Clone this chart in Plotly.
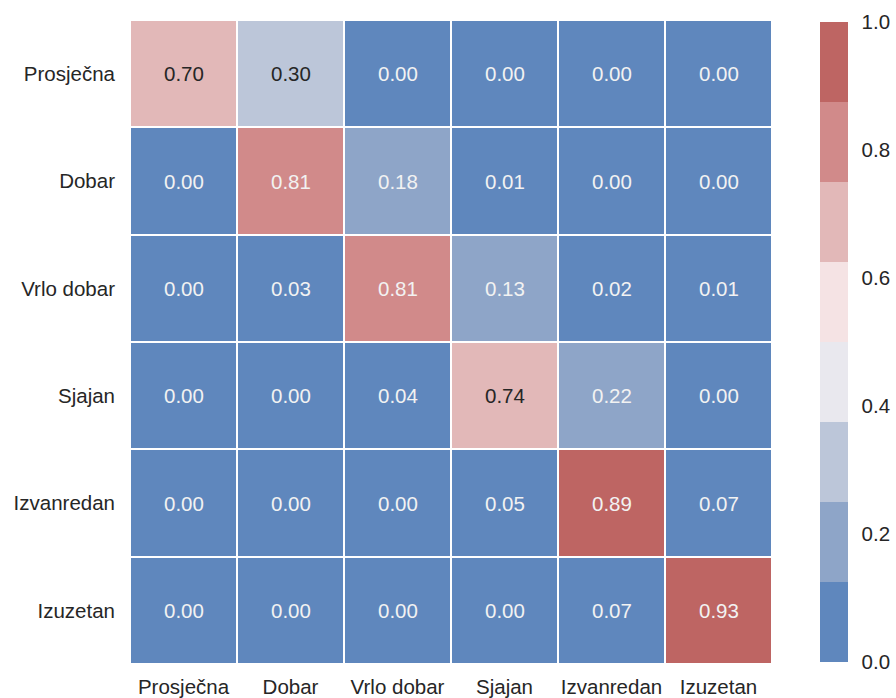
import plotly.graph_objects as go

# Class labels (row = true, column = predicted)
labels = ["Prosječna", "Dobar", "Vrlo dobar", "Sjajan", "Izvanredan", "Izuzetan"]

row_prosjecna = [0.70, 0.30, 0.00, 0.00, 0.00, 0.00]
row_dobar = [0.00, 0.81, 0.18, 0.01, 0.00, 0.00]
row_vrlo_dobar = [0.00, 0.03, 0.81, 0.13, 0.02, 0.01]
row_sjajan = [0.00, 0.00, 0.04, 0.74, 0.22, 0.00]
row_izvanredan = [0.00, 0.00, 0.00, 0.05, 0.89, 0.07]
row_izuzetan = [0.00, 0.00, 0.00, 0.00, 0.07, 0.93]

z = [row_prosjecna, row_dobar, row_vrlo_dobar, row_sjajan, row_izvanredan, row_izuzetan]

# 8-step diverging palette, blue -> red
palette = ["#5f87bd", "#8ea5c8", "#bcc6d9", "#e9e8ee",
           "#f5e3e4", "#e2b8b8", "#d18a8a", "#be6563"]
n = len(palette)
colorscale = []
for i, c in enumerate(palette):
    colorscale.append([i / n, c])
    colorscale.append([(i + 1) / n, c])

FONT = "Liberation Sans, Arial"
DARK = "#262626"
SIZE = 20.5


def cell_color(v):
    idx = min(int(v * n), n - 1)
    return palette[idx]


def text_color(hex_color):
    # relative luminance, dark text on light cells
    def lin(c):
        c = c / 255
        return c / 12.92 if c <= 0.03928 else ((c + 0.055) / 1.055) ** 2.4
    r, g, b = (lin(int(hex_color[k:k + 2], 16)) for k in (1, 3, 5))
    lum = 0.2126 * r + 0.7152 * g + 0.0722 * b
    return DARK if lum > 0.408 else "#f2f2f2"


fig = go.Figure(go.Heatmap(
    z=z, x=labels, y=labels,
    zmin=0, zmax=1,
    colorscale=colorscale,
    xgap=2, ygap=2,
    colorbar=dict(
        thickness=28, lenmode="pixels", len=640,
        x=1.0748, xanchor="left", xpad=0, ypad=0, y=0.5, yanchor="middle",
        outlinewidth=0, ticks="outside", ticklen=10, tickcolor="rgba(0,0,0,0)",
        tickvals=[0, 0.2, 0.4, 0.6, 0.8, 1.0],
        ticktext=["0.0", "0.2", "0.4", "0.6", "0.8", "1.0"],
        tickfont=dict(family=FONT, size=SIZE, color=DARK),
    ),
    hoverinfo="skip",
))

annotations = []
for i, row in enumerate(z):
    for j, v in enumerate(row):
        annotations.append(dict(
            x=labels[j], y=labels[i], text=f"{v:.2f}", showarrow=False,
            font=dict(family=FONT, size=SIZE, color=text_color(cell_color(v))),
        ))

fig.update_layout(
    width=896, height=698,
    margin=dict(l=130, r=124, t=20, b=34, autoexpand=False),
    paper_bgcolor="white", plot_bgcolor="white",
    annotations=annotations,
    font=dict(family=FONT, size=SIZE, color=DARK),
)
fig.update_xaxes(showgrid=False, zeroline=False, ticks="",
                 tickfont=dict(size=SIZE, color=DARK), side="bottom",
                 ticklabelstandoff=8)
fig.update_yaxes(showgrid=False, zeroline=False, ticks="", autorange="reversed",
                 tickfont=dict(size=SIZE, color=DARK), ticklabelstandoff=14)

fig.write_html("out.html")
